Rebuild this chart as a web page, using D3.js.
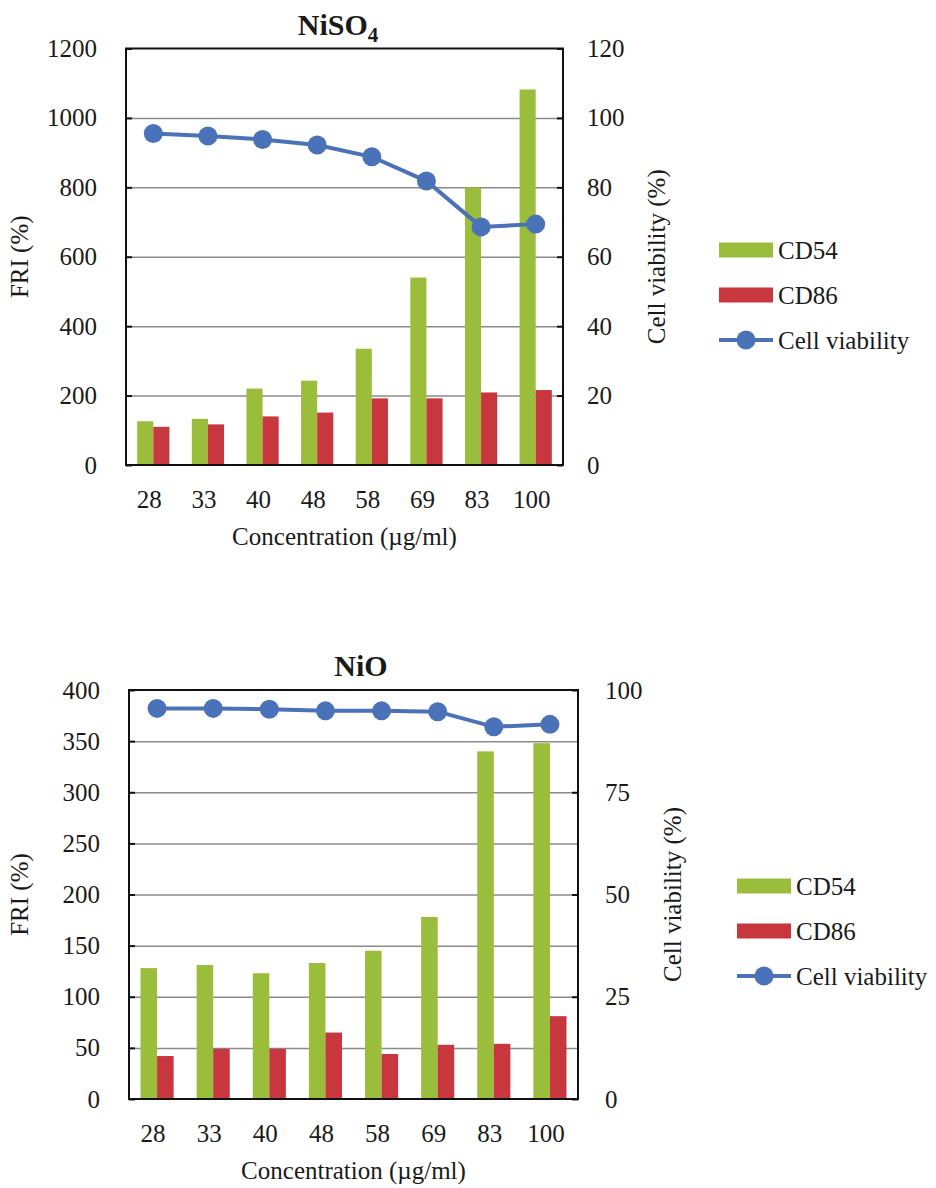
<!DOCTYPE html>
<html>
<head>
<meta charset="utf-8">
<script src="https://cdn.jsdelivr.net/npm/d3@7"></script>
<style>
  body { margin: 0; background: #fff; }
  svg { display: block; }
  svg text { font-family: 'Liberation Serif', 'Times New Roman', Times, serif; fill: #1a1a1a; }
</style>
</head>
<body>
<svg id="chart" width="936" height="1188" font-family="Liberation Serif, serif"></svg>
<script>
// concentrations (ug/ml)
const concentrations = ["28", "33", "40", "48", "58", "69", "83", "100"];

// NiSO4
const nisoCD54 = [126, 133, 220, 243, 335, 540, 800, 1082];
const nisoCD86 = [110, 117, 140, 151, 192, 192, 209, 216];
const nisoViability = [95.5, 94.8, 93.8, 92.2, 88.8, 81.8, 68.6, 69.4];
const nisoFriTicks = [0, 200, 400, 600, 800, 1000, 1200];
const nisoViabTicks = [0, 20, 40, 60, 80, 100, 120];

// NiO
const nioCD54 = [128, 131, 123, 133, 145, 178, 340, 348];
const nioCD86 = [42, 49, 49, 65, 44, 53, 54, 81];
const nioViability = [95.5, 95.5, 95.3, 94.9, 94.9, 94.7, 91.0, 91.6];
const nioFriTicks = [0, 50, 100, 150, 200, 250, 300, 350, 400];
const nioViabTicks = [0, 25, 50, 75, 100];

const legendNames = ["CD54", "CD86", "Cell viability"];

const green = "#9abd3c",
    red = "#c8363e",
    blue = "#4a72b8",
    fontSize = 25,
    serif = "Liberation Serif, Times New Roman, serif";

let svg = d3.select("#chart");

function styleAxis(a) {
    a.attr("font-family", null).attr("font-size", null);
    a.select(".domain").remove();
    a.selectAll("line").attr("stroke", "#111").attr("stroke-width", 2);
    a.selectAll("text")
        .attr("font-size", fontSize)
        .attr("font-family", serif)
        .attr("fill", "#1a1a1a");
}

function drawChart(c) {
    let g = svg.append("g");

    let x = d3.scaleBand()
        .domain(concentrations)
        .range([c.left, c.right]);

    let y = d3.scaleLinear()
        .domain([0, d3.max(c.friTicks)])
        .range([c.bottom, c.top]);

    let y2 = d3.scaleLinear()
        .domain([0, d3.max(c.viabTicks)])
        .range([c.bottom, c.top]);

    let barW = x.bandwidth() * 0.295;

    // gridlines
    g.append("g")
        .attr("transform", "translate(" + c.left + ",0)")
        .call(d3.axisLeft(y).tickValues(c.friTicks.slice(1, -1))
            .tickSize(-(c.right - c.left)).tickFormat(""))
        .call(a => a.select(".domain").remove())
        .selectAll("line")
        .attr("stroke", "#8a8a8a")
        .attr("stroke-width", 1.5);

    // bars
    g.selectAll(".cd54")
        .data(c.cd54)
        .enter().append("rect")
        .attr("class", "cd54")
        .attr("x", (d, i) => x(concentrations[i]) + x.bandwidth() / 2 - barW)
        .attr("y", d => y(d))
        .attr("width", barW)
        .attr("height", d => c.bottom - y(d))
        .attr("fill", green);

    g.selectAll(".cd86")
        .data(c.cd86)
        .enter().append("rect")
        .attr("class", "cd86")
        .attr("x", (d, i) => x(concentrations[i]) + x.bandwidth() / 2)
        .attr("y", d => y(d))
        .attr("width", barW)
        .attr("height", d => c.bottom - y(d))
        .attr("fill", red);

    // left axis
    g.append("g")
        .attr("transform", "translate(" + c.left + ",0)")
        .call(d3.axisLeft(y).tickValues(c.friTicks).tickFormat(d3.format("d"))
            .tickSizeInner(-6).tickSizeOuter(0).tickPadding(29))
        .call(styleAxis);

    // right axis
    g.append("g")
        .attr("transform", "translate(" + c.right + ",0)")
        .call(d3.axisRight(y2).tickValues(c.viabTicks).tickFormat(d3.format("d"))
            .tickSizeInner(-6).tickSizeOuter(0).tickPadding(c.rightPad))
        .call(styleAxis);

    // bottom axis
    g.append("g")
        .attr("transform", "translate(-4," + c.bottom + ")")
        .call(d3.axisBottom(x).tickSize(0).tickPadding(25))
        .call(styleAxis);

    // frame
    g.append("rect")
        .attr("x", c.left)
        .attr("y", c.top)
        .attr("width", c.right - c.left)
        .attr("height", c.bottom - c.top)
        .attr("fill", "none")
        .attr("stroke", "#111")
        .attr("stroke-width", 2);

    // viability line
    let line = d3.line()
        .x((d, i) => x(concentrations[i]) + x.bandwidth() / 2)
        .y(d => y2(d));

    g.append("path")
        .datum(c.viab)
        .attr("d", line)
        .attr("fill", "none")
        .attr("stroke", blue)
        .attr("stroke-width", 4);

    g.selectAll(".viab")
        .data(c.viab)
        .enter().append("circle")
        .attr("class", "viab")
        .attr("cx", (d, i) => x(concentrations[i]) + x.bandwidth() / 2)
        .attr("cy", d => y2(d))
        .attr("r", 9.5)
        .attr("fill", blue);

    // title
    let title = g.append("text")
        .attr("x", c.titleX)
        .attr("y", c.top - 14)
        .attr("text-anchor", "middle")
        .attr("font-family", serif)
        .attr("font-size", 30)
        .attr("font-weight", "bold")
        .text(c.title);
    if (c.sub) {
        title.append("tspan")
            .attr("dy", 7)
            .attr("font-size", 21)
            .text(c.sub);
    }

    // axis titles
    g.append("text")
        .attr("x", (c.left + c.right) / 2)
        .attr("y", c.bottom + 80)
        .attr("text-anchor", "middle")
        .attr("font-family", serif)
        .attr("font-size", fontSize)
        .text("Concentration (\u00b5g/ml)");

    g.append("text")
        .attr("transform", "translate(28," + (c.top + c.bottom) / 2 + ") rotate(-90)")
        .attr("text-anchor", "middle")
        .attr("font-family", serif)
        .attr("font-size", fontSize)
        .text("FRI (%)");

    g.append("text")
        .attr("transform", "translate(" + c.rightTitleX + "," + (c.top + c.bottom) / 2 + ") rotate(-90)")
        .attr("text-anchor", "middle")
        .attr("font-family", serif)
        .attr("font-size", fontSize)
        .text("Cell viability (%)");

    // legend
    let legend = g.append("g")
        .attr("transform", "translate(" + c.legendX + "," + c.legendY + ")");

    legend.selectAll("rect")
        .data([green, red])
        .enter().append("rect")
        .attr("x", 0)
        .attr("y", (d, i) => i * 45 - 7.5)
        .attr("width", 54)
        .attr("height", 15)
        .attr("fill", d => d);

    legend.append("line")
        .attr("x1", 0).attr("x2", 54)
        .attr("y1", 90).attr("y2", 90)
        .attr("stroke", blue)
        .attr("stroke-width", 4);

    legend.append("circle")
        .attr("cx", 27).attr("cy", 90)
        .attr("r", 9.5)
        .attr("fill", blue);

    legend.selectAll("text")
        .data(legendNames)
        .enter().append("text")
        .attr("x", 59)
        .attr("y", (d, i) => i * 45 + 8.5)
        .attr("font-family", serif)
        .attr("font-size", fontSize)
        .text(d => d);
}

drawChart({
    top: 48.5, bottom: 465, left: 126, right: 563,
    cd54: nisoCD54, cd86: nisoCD86, viab: nisoViability,
    friTicks: nisoFriTicks, viabTicks: nisoViabTicks,
    title: "NiSO", sub: "4", titleX: 338,
    rightPad: 24, rightTitleX: 665,
    legendX: 719, legendY: 250
});

drawChart({
    top: 690, bottom: 1099, left: 129, right: 578,
    cd54: nioCD54, cd86: nioCD86, viab: nioViability,
    friTicks: nioFriTicks, viabTicks: nioViabTicks,
    title: "NiO", titleX: 361,
    rightPad: 27, rightTitleX: 681,
    legendX: 737, legendY: 886
});
</script>
</body>
</html>
